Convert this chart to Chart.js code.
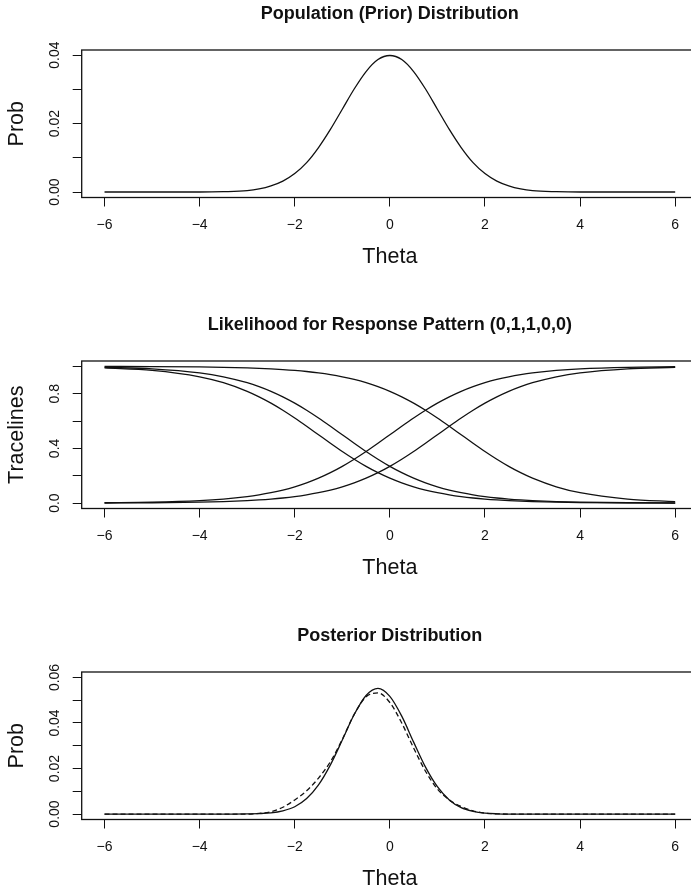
<!DOCTYPE html>
<html>
<head>
<meta charset="utf-8">
<title>Prior, likelihood and posterior</title>
<script src="https://cdn.jsdelivr.net/npm/chart.js@4.4.1/dist/chart.umd.min.js"></script>
<style>
  body { margin: 0; background: #fff; }
  #wrap { position: relative; width: 691px; height: 894px; overflow: hidden; }
  #wrap canvas { position: absolute; left: 0; }
</style>
</head>
<body>
<div id="wrap">
  <canvas id="prior" width="710" height="290" style="top:0px"></canvas>
  <canvas id="trace" width="710" height="290" style="top:311px"></canvas>
  <canvas id="post" width="710" height="290" style="top:622px"></canvas>
</div>
<script>
/** Data **/

//Quadrature points (theta) the curves are given at
var thetaGrid = [-6, -5, -4, -3.5, -3, -2.75, -2.5, -2.25, -2, -1.75, -1.5, -1.25, -1, -0.75, -0.5, -0.25,
	0, 0.25, 0.5, 0.75, 1, 1.25, 1.5, 1.75, 2, 2.25, 2.5, 2.75, 3, 3.5, 4, 5, 6];

//Population (prior) distribution
var priorProb = [0, 0, 0, 0.0001, 0.0004, 0.0009, 0.0018, 0.0032, 0.0054, 0.0086, 0.0130, 0.0183, 0.0242, 0.0301, 0.0352, 0.0387,
	0.0399, 0.0387, 0.0352, 0.0301, 0.0242, 0.0183, 0.0130, 0.0086, 0.0054, 0.0032, 0.0018, 0.0009, 0.0004, 0.0001, 0, 0, 0];

//Tracelines for response pattern (0,1,1,0,0)
var traceA = [0.9994, 0.9985, 0.9959, 0.9933, 0.9890, 0.9859, 0.9820, 0.9770, 0.9707, 0.9627, 0.9526, 0.9399, 0.9241, 0.9047, 0.8808, 0.8520,
	0.8176, 0.7773, 0.7311, 0.6792, 0.6225, 0.5622, 0.5000, 0.4378, 0.3775, 0.3208, 0.2689, 0.2227, 0.1824, 0.1192, 0.0759, 0.0293, 0.0110];
var traceB = [0.0025, 0.0067, 0.0180, 0.0293, 0.0474, 0.0601, 0.0759, 0.0953, 0.1192, 0.1480, 0.1824, 0.2227, 0.2689, 0.3208, 0.3775, 0.4378,
	0.5000, 0.5622, 0.6225, 0.6792, 0.7311, 0.7773, 0.8176, 0.8520, 0.8808, 0.9047, 0.9241, 0.9399, 0.9526, 0.9707, 0.9820, 0.9933, 0.9975];
var traceC = [0.0009, 0.0025, 0.0067, 0.0110, 0.0180, 0.0230, 0.0293, 0.0373, 0.0474, 0.0601, 0.0759, 0.0953, 0.1192, 0.1480, 0.1824, 0.2227,
	0.2689, 0.3208, 0.3775, 0.4378, 0.5000, 0.5622, 0.6225, 0.6792, 0.7311, 0.7773, 0.8176, 0.8520, 0.8808, 0.9241, 0.9526, 0.9820, 0.9933];
var traceD = [0.9890, 0.9707, 0.9241, 0.8808, 0.8176, 0.7773, 0.7311, 0.6792, 0.6225, 0.5622, 0.5000, 0.4378, 0.3775, 0.3208, 0.2689, 0.2227,
	0.1824, 0.1480, 0.1192, 0.0953, 0.0759, 0.0601, 0.0474, 0.0373, 0.0293, 0.0230, 0.0180, 0.0141, 0.0110, 0.0067, 0.0041, 0.0015, 0.0006];
var traceE = [0.9933, 0.9820, 0.9526, 0.9241, 0.8808, 0.8520, 0.8176, 0.7773, 0.7311, 0.6792, 0.6225, 0.5622, 0.5000, 0.4378, 0.3775, 0.3208,
	0.2689, 0.2227, 0.1824, 0.1480, 0.1192, 0.0953, 0.0759, 0.0601, 0.0474, 0.0373, 0.0293, 0.0230, 0.0180, 0.0110, 0.0067, 0.0025, 0.0009];

//Posterior distribution (solid) and its approximation (dashed)
var postProb = [0, 0, 0, 0, 0.0001, 0.0002, 0.0005, 0.0014, 0.0032, 0.0068, 0.0128, 0.0216, 0.0325, 0.0437, 0.0521, 0.0552,
	0.0517, 0.0430, 0.0316, 0.0206, 0.0120, 0.0062, 0.0028, 0.0012, 0.0004, 0.0001, 0, 0, 0, 0, 0, 0, 0];
var postApprox = [0, 0, 0, 0, 0, 0.0003, 0.0010, 0.0030, 0.0062, 0.0102, 0.0158, 0.0230, 0.0328, 0.0438, 0.0515, 0.0532,
	0.0490, 0.0400, 0.0290, 0.0188, 0.0110, 0.0062, 0.0033, 0.0014, 0.0004, 0.0001, 0, 0, 0, 0, 0, 0, 0];

//Axis ticks and labels
var xTicks = [-6, -4, -2, 0, 2, 4, 6];
var priorYTicks = [0, 0.01, 0.02, 0.03, 0.04];
var priorYLabels = ['0.00', '', '0.02', '', '0.04'];
var traceYTicks = [0, 0.2, 0.4, 0.6, 0.8, 1.0];
var traceYLabels = ['0.0', '', '0.4', '', '0.8', ''];
var postYTicks = [0, 0.01, 0.02, 0.03, 0.04, 0.05, 0.06];
var postYLabels = ['0.00', '', '0.02', '', '0.04', '', '0.06'];

var FONT = '"Liberation Sans", Arial, Helvetica, sans-serif';
var INK = '#111';

//Draw the full box round the plot region, like R's box()
var boxPlugin = {
	id: 'box',
	afterDraw: function(chart) {
		var a = chart.chartArea;
		var ctx = chart.ctx;
		ctx.save();
		ctx.strokeStyle = INK;
		ctx.lineWidth = 1.3;
		ctx.strokeRect(a.left, a.top, a.right - a.left, a.bottom - a.top);
		ctx.restore();
	}
};

function toPoints(ys) {
	var pts = [];
	for (var i = 0; i < thetaGrid.length; i++) {
		pts.push({x: thetaGrid[i], y: ys[i]});
	}
	return pts;
}

function curve(ys, dashed) {
	return {
		data: toPoints(ys),
		borderColor: INK,
		borderWidth: 1.3,
		borderDash: dashed ? [5, 3] : [],
		pointRadius: 0,
		fill: false,
		cubicInterpolationMode: 'monotone'
	};
}

function fmtTheta(v) {
	return v < 0 ? '\u2212' + Math.abs(v) : String(v);
}

function makePanel(id, title, yTitle, datasets, yMin, yMax, yTicks, yLabels, yPad) {
	var tickGrid = {display: true, drawOnChartArea: false, drawTicks: true, tickLength: 9, color: INK, lineWidth: 1};
	return new Chart(document.getElementById(id), {
		type: 'line',
		data: {datasets: datasets},
		plugins: [boxPlugin],
		options: {
			responsive: false,
			animation: false,
			layout: {padding: {left: 0, right: 12, top: 0, bottom: 0}},
			plugins: {
				legend: {display: false},
				tooltip: {enabled: false},
				title: {
					display: true,
					text: title,
					fullSize: false,
					color: INK,
					font: {family: FONT, size: 18, weight: 'bold'},
					padding: {top: 3, bottom: 25.4}
				}
			},
			scales: {
				x: {
					type: 'linear',
					min: -6.48,
					max: 6.48,
					afterBuildTicks: function(s) { s.ticks = xTicks.map(function(v) { return {value: v}; }); },
					afterFit: function(s) { s.height = 92.5; },
					grid: tickGrid,
					border: {display: false},
					ticks: {
						color: INK, font: {family: FONT, size: 14}, padding: 10,
						maxRotation: 0, autoSkip: false,
						callback: function(v) { return fmtTheta(v); }
					},
					title: {display: true, text: 'Theta', color: INK, font: {family: FONT, size: 21.5}, padding: {top: 0, bottom: 20.4}}
				},
				y: {
					type: 'linear',
					min: yMin,
					max: yMax,
					afterBuildTicks: function(s) { s.ticks = yTicks.map(function(v) { return {value: v}; }); },
					afterFit: function(s) { s.width = 81.7; },
					grid: tickGrid,
					border: {display: false},
					ticks: {
						color: INK, font: {family: FONT, size: 14}, padding: yPad,
						crossAlign: 'center', minRotation: 90, maxRotation: 90, autoSkip: false,
						callback: function(v, i) { return yLabels[i]; }
					},
					title: {display: true, text: yTitle, color: INK, font: {family: FONT, size: 21.5}, padding: {top: 3.8, bottom: 0}}
				}
			}
		}
	});
}

makePanel('prior', 'Population (Prior) Distribution', 'Prob',
	[curve(priorProb, false)], -0.0016, 0.0415, priorYTicks, priorYLabels, 3.6);

makePanel('trace', 'Likelihood for Response Pattern (0,1,1,0,0)', 'Tracelines',
	[curve(traceA, false), curve(traceB, false), curve(traceC, false), curve(traceD, false), curve(traceE, false)],
	-0.0394, 1.0394, traceYTicks, traceYLabels, 7.5);

makePanel('post', 'Posterior Distribution', 'Prob',
	[curve(postProb, false), curve(postApprox, true)], -0.0024, 0.0624, postYTicks, postYLabels, 3.6);
</script>
</body>
</html>
